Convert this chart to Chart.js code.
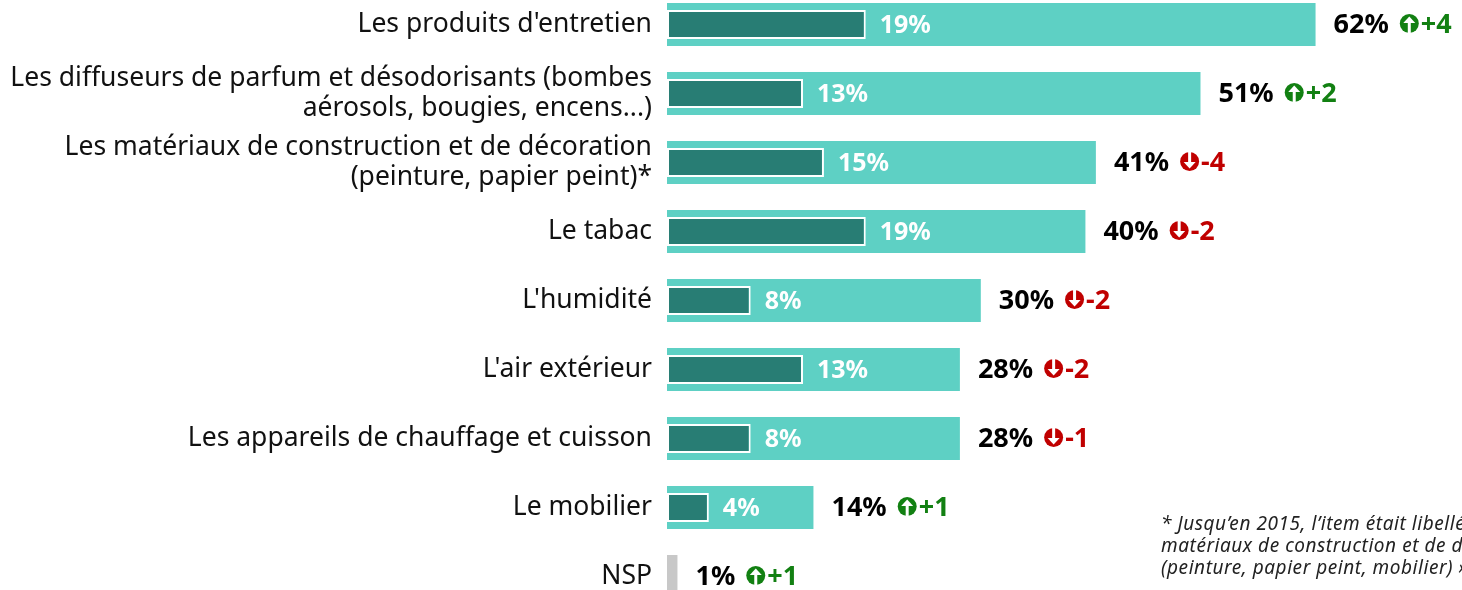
<!DOCTYPE html>
<html>
<head>
<meta charset="UTF-8">
<title>Sources de pollution de l'air intérieur</title>
<script src="https://cdn.jsdelivr.net/npm/chart.js"></script>
<style>
html, body { margin: 0; padding: 0; background: #fff; overflow: hidden; width: 1462px; height: 590px; }
#wrap { position: absolute; left: 0; top: -10.5px; width: 1462px; height: 621px; }
#note {
	position: absolute; left: 1161px; top: 512px; white-space: nowrap;
	font-family: "Noto Sans", sans-serif; font-style: italic; font-size: 19px; letter-spacing: 0.55px;
	line-height: 22px; color: #222;
}
</style>
</head>
<body>
<div id="wrap"><canvas id="myChart"></canvas></div>
<div id="note">* Jusqu’en 2015, l’item était libellé « Les<br>matériaux de construction et de décoration<br>(peinture, papier peint, mobilier) »</div>
<script>
var categories = [
	["Les produits d'entretien"],
	["Les diffuseurs de parfum et désodorisants (bombes", "aérosols, bougies, encens...)"],
	["Les matériaux de construction et de décoration", "(peinture, papier peint)*"],
	["Le tabac"],
	["L'humidité"],
	["L'air extérieur"],
	["Les appareils de chauffage et cuisson"],
	["Le mobilier"],
	["NSP"]
];
var totalValues = [62, 51, 41, 40, 30, 28, 28, 14, 1];
var innerValues = [19, 13, 15, 19, 8, 13, 8, 4, null];
var deltas = [4, 2, -4, -2, -2, -2, -1, 1, 1];

var TEAL = '#5ed0c4', DARK = '#287d74', GREEN = '#128012', RED = '#c00000';
var FONT = '"Noto Sans", sans-serif';

// round badge with a white arrow, pointing up or down
function drawArrow(ctx, x, cy, up, color) {
	var r = 9.5, cx = x + r;
	ctx.save();
	ctx.fillStyle = color;
	ctx.beginPath();
	ctx.arc(cx, cy, r, 0, Math.PI * 2);
	ctx.fill();
	ctx.fillStyle = '#fff';
	var d = up ? 1 : -1;
	ctx.fillRect(cx - 1.5, up ? cy - 1 : cy - r - 1, 3, r + 2);
	ctx.beginPath();
	ctx.moveTo(cx, cy - d * 7);
	ctx.lineTo(cx - 6, cy - d * 0.5);
	ctx.lineTo(cx + 6, cy - d * 0.5);
	ctx.closePath();
	ctx.fill();
	ctx.restore();
}

var valueLabels = {
	id: 'valueLabels',
	afterDatasetsDraw: function(chart) {
		var ctx = chart.ctx;
		var inner = chart.getDatasetMeta(0);
		var total = chart.getDatasetMeta(1);
		ctx.save();
		ctx.textBaseline = 'middle';
		ctx.textAlign = 'left';
		inner.data.forEach(function(bar, i) {
			if (innerValues[i] == null) return;
			ctx.font = 'bold 25px ' + FONT;
			ctx.fillStyle = '#fff';
			ctx.fillText(innerValues[i] + '%', bar.x + 14, bar.y + 1);
		});
		total.data.forEach(function(bar, i) {
			var x = bar.x + 18;
			var y = bar.y + 1;
			ctx.font = 'bold 27px ' + FONT;
			ctx.fillStyle = '#000';
			var txt = totalValues[i] + '%';
			ctx.fillText(txt, x, y);
			x += ctx.measureText(txt).width + 11;
			var up = deltas[i] > 0;
			var col = up ? GREEN : RED;
			drawArrow(ctx, x, y - 2, up, col);
			ctx.fillStyle = col;
			ctx.fillText((up ? '+' : '-') + Math.abs(deltas[i]), x + 21, y);
		});
		ctx.restore();
	}
};

new Chart(document.getElementById('myChart'), {
	type: 'bar',
	data: {
		labels: categories,
		datasets: [{
			data: innerValues,
			backgroundColor: DARK,
			borderColor: '#fff',
			borderWidth: 2,
			borderSkipped: false,
			barPercentage: 0.42,
			categoryPercentage: 1,
			grouped: false,
			order: 0
		}, {
			data: totalValues,
			backgroundColor: totalValues.map(function(v, i) { return i === totalValues.length - 1 ? '#c8c8c8' : TEAL; }),
			borderWidth: 0,
			barPercentage: 0.623,
			categoryPercentage: 1,
			grouped: false,
			order: 1
		}]
	},
	options: {
		indexAxis: 'y',
		responsive: true,
		maintainAspectRatio: false,
		animation: false,
		layout: { padding: 0 },
		plugins: { legend: { display: false }, tooltip: { enabled: false } },
		scales: {
			x: { display: false, min: 0, max: 76 },
			y: {
				grid: { display: false, drawTicks: false },
				border: { display: false },
				afterFit: function(scale) {
					scale.width = 667;
					scale.paddingTop = 0;
					scale.paddingBottom = 0;
				},
				ticks: {
					padding: 15,
					color: '#111',
					font: { family: FONT, size: 26.5, lineHeight: 1.14 }
				}
			}
		}
	},
	plugins: [valueLabels]
});
</script>
</body>
</html>
